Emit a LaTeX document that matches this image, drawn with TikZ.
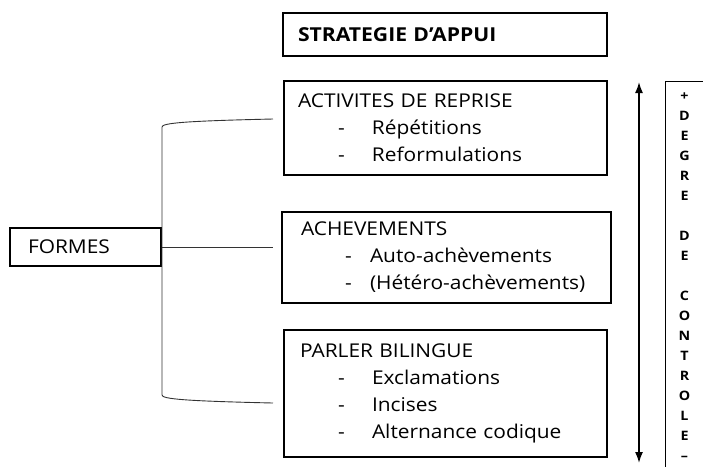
\documentclass[tikz,border=0pt]{standalone}
\usepackage{fontspec}
\setmainfont{Open Sans}[FakeStretch=1.1]
\usetikzlibrary{arrows.meta}
\newcommand{\itm}[3]{\hspace*{#1}\makebox[#2][l]{-}#3}
\begin{document}
\begin{tikzpicture}[x=1pt,y=-1pt,
  boxstyle/.style={draw, line width=1.8pt, inner ysep=0pt, align=left,
    font=\fontsize{19}{27}\selectfont},
  conn/.style={draw=black!80, line width=0.9pt},
  dblarrow/.style={line width=1.6pt, {Latex[length=11pt,width=8pt]}-{Latex[length=11pt,width=8pt]}}]
\useasboundingbox (0,0) rectangle (703,467);

\node[boxstyle, minimum width=324pt, minimum height=43pt, inner xsep=15pt, text width=294pt,
  font=\bfseries\fontsize{19.2}{24}\selectfont] (strat) at (445,34.5) {STRATEGIE D’APPUI};

\node[boxstyle, minimum width=323pt, minimum height=94pt, inner xsep=14pt, text width=295pt] (b1) at (445.5,128)
  {ACTIVITES DE REPRISE\\ \itm{40pt}{34pt}{Répétitions}\\ \itm{40pt}{34pt}{Reformulations}};

\node[boxstyle, minimum width=329pt, minimum height=91pt, inner xsep=19pt, text width=291pt] (b2) at (446.5,257.5)
  {ACHEVEMENTS\\ \itm{44pt}{25pt}{Auto-achèvements}\\ \itm{44pt}{25pt}{(Hétéro-achèvements)}};

\node[boxstyle, minimum width=323pt, minimum height=127pt, inner xsep=16pt, text width=291pt] (b3) at (445.5,393.5)
  {PARLER BILINGUE\\ \itm{38pt}{34pt}{Exclamations}\\ \itm{38pt}{34pt}{Incises}\\ \itm{38pt}{34pt}{Alternance codique}};

\node[boxstyle, minimum width=151pt, minimum height=38pt, inner xsep=18pt, text width=115pt] (formes) at (85.5,247) {FORMES};

% bracket
\coordinate (brtop) at (273,119);
\coordinate (brmid) at (273,247);
\coordinate (brbot) at (273,403);
\coordinate (vtop) at (162,127);
\coordinate (vbot) at (162,395);
\draw[conn] (brtop) .. controls (185,121) and (162,123) .. (vtop) -- (vbot)
  .. controls (162,399) and (185,401) .. (brbot);
\draw[conn] (formes.east) -- (brmid);

% arrow
\coordinate (atop) at (639,82);
\coordinate (abot) at (639,463);
\draw[dblarrow] (atop) -- (abot);

% degree box
\coordinate (dtr) at (703,81);
\coordinate (dtl) at (665,81);
\coordinate (dbl) at (665,467);
\draw[line width=0.9pt] (dtr) -- (dtl) -- (dbl);
\node[align=center, inner sep=0pt, font=\bfseries\fontsize{13}{20}\selectfont, anchor=north] (deg) at (684.5,92.5)
  {+\\ D\\ E\\ G\\ R\\ E\\ \mbox{}\\ D\\ E\\ \mbox{}\\ C\\ O\\ N\\ T\\ R\\ O\\ L\\ E\\ –};
\end{tikzpicture}
\end{document}
